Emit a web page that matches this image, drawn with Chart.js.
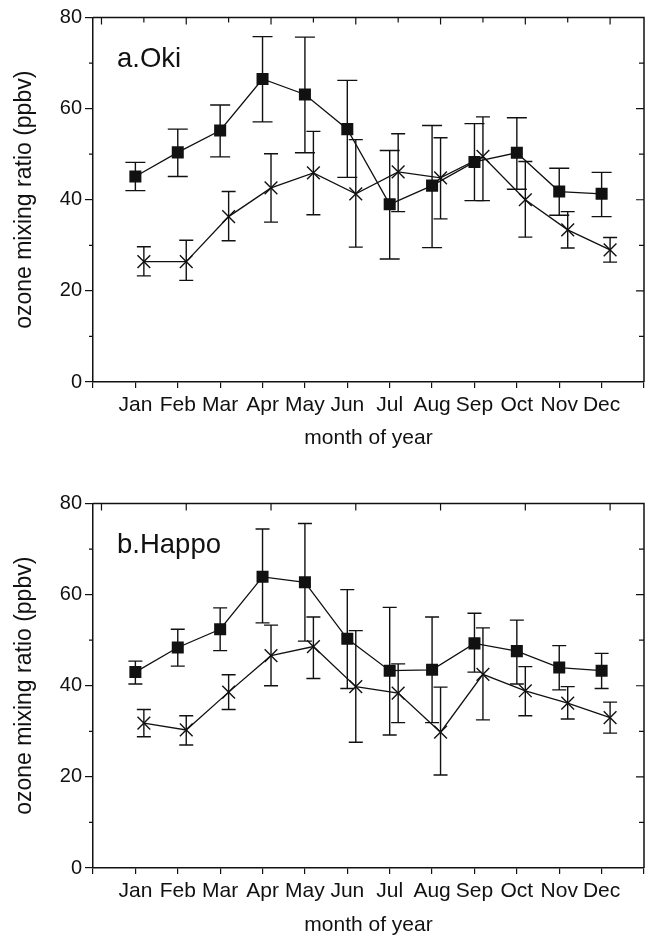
<!DOCTYPE html>
<html>
<head>
<meta charset="utf-8">
<script src="https://cdn.jsdelivr.net/npm/chart.js@4.4.1/dist/chart.umd.min.js"></script>
<style>
  html, body { margin: 0; padding: 0; background: #fff; }
  #wrap { position: relative; width: 645px; height: 941px; }
  canvas { position: absolute; left: 0; }
</style>
</head>
<body>
<div id="wrap">
  <canvas id="oki" width="645" height="470" style="top:0px"></canvas>
  <canvas id="happo" width="645" height="471" style="top:470px"></canvas>
</div>
<script>
// ---- data ----
const months = ['Jan', 'Feb', 'Mar', 'Apr', 'May', 'Jun', 'Jul', 'Aug', 'Sep', 'Oct', 'Nov', 'Dec'];
const yTicks = [0, 20, 40, 60, 80];

// a.Oki
const okiSquare     = [45.1, 50.4, 55.2, 66.5, 63.1, 55.5, 39.0, 43.1, 48.3, 50.3, 41.8, 41.3];
const okiSquareLow  = [42.0, 45.1, 49.4, 57.1, 50.3, 44.9, 27.0, 29.5, 39.8, 42.3, 36.6, 36.3];
const okiSquareHigh = [48.2, 55.5, 60.8, 75.8, 75.7, 66.2, 50.8, 56.3, 56.7, 58.0, 46.9, 46.0];
const okiCross      = [26.4, 26.4, 36.3, 42.6, 45.9, 41.3, 46.1, 44.8, 49.5, 40.0, 33.4, 29.0];
const okiCrossLow   = [23.3, 22.3, 31.0, 35.1, 36.7, 29.6, 37.4, 35.8, 39.8, 31.8, 29.4, 26.3];
const okiCrossHigh  = [29.7, 31.1, 41.8, 50.1, 55.0, 53.2, 54.5, 53.6, 58.2, 48.4, 37.4, 31.7];

// b.Happo
const happoSquare     = [43.0, 48.4, 52.4, 63.9, 62.7, 50.3, 43.3, 43.5, 49.3, 47.6, 44.0, 43.3];
const happoSquareLow  = [40.4, 44.3, 47.7, 53.8, 49.8, 39.4, 29.2, 31.9, 43.0, 40.4, 39.1, 39.4];
const happoSquareHigh = [45.4, 52.4, 57.1, 74.4, 75.6, 61.1, 57.2, 55.1, 55.9, 54.4, 48.8, 47.1];
const happoCross      = [31.8, 30.3, 38.6, 46.6, 48.6, 39.8, 38.4, 29.8, 42.5, 38.9, 36.2, 33.0];
const happoCrossLow   = [28.8, 27.0, 34.8, 40.0, 41.6, 27.6, 31.9, 20.4, 32.5, 33.4, 32.7, 29.6];
const happoCrossHigh  = [34.8, 33.4, 42.4, 53.3, 55.1, 52.1, 44.8, 39.7, 52.7, 44.2, 39.8, 36.4];

// crosses sit a little right of the month tick in the original
const CROSS_SHIFT = 0.2;
const FONT = '"Liberation Sans", Arial, Helvetica, sans-serif';
const INK = '#111';

const toPoints = (vals, shift) => vals.map((v, i) => ({ x: i + 1 + shift, y: v }));

// error bars, frame, extra ticks and the panel label
const decorPlugin = {
    id: 'decor',
    beforeDatasetsDraw(chart) {
        const { ctx, scales: { x, y } } = chart;
        ctx.save();
        ctx.strokeStyle = INK;
        ctx.lineWidth = 1.4;
        chart.data.datasets.forEach(ds => {
            ds.data.forEach((p, i) => {
                const px = x.getPixelForValue(p.x);
                const lo = y.getPixelForValue(ds.errLow[i]);
                const hi = y.getPixelForValue(ds.errHigh[i]);
                const c = ds.capHalf;
                ctx.beginPath();
                ctx.moveTo(px, lo); ctx.lineTo(px, hi);
                ctx.moveTo(px - c, lo); ctx.lineTo(px + c, lo);
                ctx.moveTo(px - c, hi); ctx.lineTo(px + c, hi);
                ctx.stroke();
            });
        });
        ctx.restore();
    },
    afterDraw(chart, args, opts) {
        const { ctx, chartArea: a, scales: { x, y } } = chart;
        ctx.save();
        ctx.strokeStyle = INK;
        ctx.lineWidth = 1.5;
        // top + right frame
        ctx.beginPath();
        ctx.moveTo(a.left, a.top); ctx.lineTo(a.right, a.top); ctx.lineTo(a.right, a.bottom);
        ctx.stroke();

        ctx.lineWidth = 1.2;
        ctx.beginPath();
        // right axis ticks, pointing inward
        for (let v = 10; v < 80; v += 10) {
            const py = y.getPixelForValue(v);
            const len = v % 20 === 0 ? 8 : 5;
            ctx.moveTo(a.right, py); ctx.lineTo(a.right - len, py);
        }
        // left minor ticks
        for (let v = 10; v < 80; v += 20) {
            const py = y.getPixelForValue(v);
            ctx.moveTo(a.left, py); ctx.lineTo(a.left - 4, py);
        }
        // top axis ticks
        for (let k = 0; k <= 12; k += opts.topStep) {
            const px = x.getPixelForValue(k + CROSS_SHIFT);
            const len = k % 2 === 0 ? 7 : 5;
            ctx.moveTo(px, a.top); ctx.lineTo(px, a.top + len);
        }
        ctx.stroke();

        // panel label
        ctx.fillStyle = INK;
        ctx.font = '27.5px ' + FONT;
        ctx.textBaseline = 'alphabetic';
        ctx.fillText(opts.label, a.left + 24, a.top + 49);
        ctx.restore();
    }
};

function makePanel(canvasId, cfg) {
    const ctx = document.getElementById(canvasId).getContext('2d');
    return new Chart(ctx, {
        type: 'line',
        data: {
            datasets: [{
                data: toPoints(cfg.square, 0),
                errLow: cfg.squareLow,
                errHigh: cfg.squareHigh,
                capHalf: cfg.squareCap,
                borderColor: INK,
                borderWidth: 1.3,
                pointStyle: 'rect',
                pointRadius: 8.5,
                pointBackgroundColor: INK,
                pointBorderColor: INK,
                pointBorderWidth: 0,
                tension: 0
            }, {
                data: toPoints(cfg.cross, CROSS_SHIFT),
                errLow: cfg.crossLow,
                errHigh: cfg.crossHigh,
                capHalf: 7,
                borderColor: INK,
                borderWidth: 1.3,
                pointStyle: 'crossRot',
                pointRadius: 9,
                pointBorderColor: INK,
                pointBorderWidth: 1.4,
                tension: 0
            }]
        },
        options: {
            responsive: false,
            animation: false,
            events: [],
            layout: { autoPadding: false, padding: { top: cfg.padTop, right: 1, left: 0, bottom: 0 } },
            plugins: {
                legend: { display: false },
                tooltip: { enabled: false },
                decor: { label: cfg.label, topStep: cfg.topStep }
            },
            scales: {
                x: {
                    type: 'linear',
                    min: 0,
                    max: 13,
                    offset: false,
                    afterBuildTicks: s => { s.ticks = Array.from({ length: 14 }, (_, v) => ({ value: v })); },
                    afterFit: s => {
                        s.height = cfg.xAxisHeight;
                        s.paddingLeft = 0;
                        s.paddingRight = 0;
                    },
                    border: { display: true, color: INK, width: 1.5 },
                    grid: { drawOnChartArea: false, drawTicks: true, tickLength: 6, color: INK, lineWidth: 1.2 },
                    ticks: {
                        autoSkip: false,
                        maxRotation: 0,
                        padding: 5,
                        color: INK,
                        font: { family: FONT, size: 21 },
                        callback: v => months[v - 1] || ''
                    },
                    title: {
                        display: true,
                        text: 'month of year',
                        color: INK,
                        font: { family: FONT, size: 21 },
                        padding: { top: 0, bottom: cfg.xTitlePad }
                    }
                },
                y: {
                    min: 0,
                    max: 80,
                    afterBuildTicks: s => { s.ticks = yTicks.map(v => ({ value: v })); },
                    afterFit: s => { s.width = 93; },
                    border: { display: true, color: INK, width: 1.5 },
                    grid: { drawOnChartArea: false, drawTicks: true, tickLength: 8, color: INK, lineWidth: 1.2 },
                    ticks: {
                        padding: 3,
                        color: INK,
                        font: { family: FONT, size: 20 }
                    },
                    title: {
                        display: true,
                        text: 'ozone mixing ratio (ppbv)',
                        color: INK,
                        font: { family: FONT, size: 23 },
                        padding: { top: 11, bottom: 0 }
                    }
                }
            }
        },
        plugins: [decorPlugin]
    });
}

makePanel('oki', {
    label: 'a.Oki',
    square: okiSquare, squareLow: okiSquareLow, squareHigh: okiSquareHigh, squareCap: 10,
    cross: okiCross, crossLow: okiCrossLow, crossHigh: okiCrossHigh,
    padTop: 17.5, xAxisHeight: 88, xTitlePad: 19, topStep: 1
});

makePanel('happo', {
    label: 'b.Happo',
    square: happoSquare, squareLow: happoSquareLow, squareHigh: happoSquareHigh, squareCap: 7,
    cross: happoCross, crossLow: happoCrossLow, crossHigh: happoCrossHigh,
    padTop: 33.5, xAxisHeight: 73, xTitlePad: 3, topStep: 2
});
</script>
</body>
</html>
